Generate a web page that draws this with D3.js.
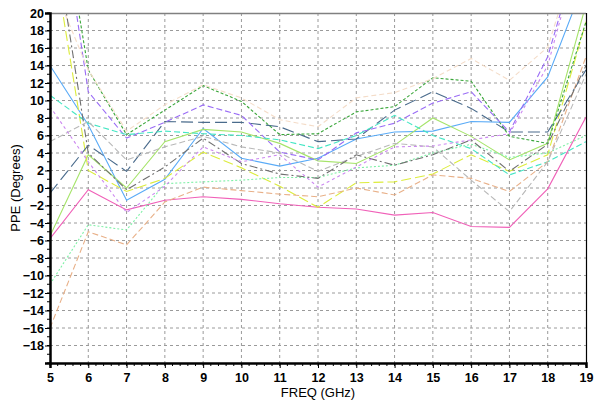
<!DOCTYPE html>
<html>
<head>
<meta charset="utf-8">
<script src="https://cdn.jsdelivr.net/npm/d3@7"></script>
<style>
  html, body { margin: 0; padding: 0; background: #ffffff; }
  svg { display: block; }
</style>
</head>
<body>
<script>
const freqs = [5, 6, 7, 8, 9, 10, 11, 12, 13, 14, 15, 16, 17, 18, 19];
const xTicks = [5, 6, 7, 8, 9, 10, 11, 12, 13, 14, 15, 16, 17, 18, 19];
const yTicks = [20, 18, 16, 14, 12, 10, 8, 6, 4, 2, 0, -2, -4, -6, -8, -10, -12, -14, -16, -18];

const seriesNames = ["pink", "blue", "lime", "yellow", "slate", "green", "purple", "aqua", "mint", "tan", "peach", "lightgray", "darkgray", "violet"];
const pinkVals     = [-5.8, -0.2, -2.5, -1.4, -1.0, -1.3, -1.8, -2.2, -2.4, -3.1, -2.8, -4.4, -4.5, -0.1, 8.1];
const blueVals     = [14.0, 7.2, -1.4, 1.0, 6.8, 3.4, 2.5, 3.4, 5.6, 6.4, 6.5, 7.6, 7.5, 12.7, 24.0];
const limeVals     = [-5.5, 3.8, 0.0, 5.3, 6.7, 6.4, 5.1, 3.1, 2.8, 4.9, 8.0, 5.9, 3.2, 5.1, 21.0];
const yellowVals   = [29.0, 2.0, -0.4, 1.1, 4.1, 2.3, 0.2, -2.2, 0.6, 0.7, 1.6, 3.8, 1.9, 3.8, 19.0];
const slateVals    = [-0.6, 4.9, 1.9, 7.6, 7.5, 7.5, 7.0, 5.3, 5.6, 8.9, 11.0, 9.1, 6.4, 6.4, 13.5];
const greenVals    = [40.0, 13.5, 6.1, 8.9, 11.7, 9.9, 6.1, 6.2, 8.7, 9.3, 12.6, 12.2, 5.9, 5.1, 19.0];
const purpleVals   = [40.0, 11.0, 5.7, 7.5, 9.5, 8.3, 4.1, 3.2, 6.3, 7.4, 9.7, 11.0, 6.4, 15.0, 30.0];
const aquaVals     = [10.6, 7.4, 6.1, 6.5, 6.2, 6.0, 5.5, 4.5, 6.0, 8.3, 6.0, 4.5, 1.5, 3.0, 5.3];
const mintVals     = [-11.0, -4.2, -4.8, 0.5, 0.7, 0.9, 1.2, 1.2, 2.3, 2.6, 4.0, 5.0, 3.5, 4.0, 6.0];
const tanVals      = [-16.0, -5.0, -6.5, -1.6, 0.1, -0.3, -0.7, -1.0, 0.0, -0.8, 1.5, 1.1, -0.4, 3.0, 15.0];
const peachVals    = [24.0, 13.5, 6.5, 9.5, 11.8, 10.3, 7.8, 7.0, 10.3, 10.9, 12.5, 14.8, 12.3, 16.1, 30.0];
const lightgrayVals= [5.3, 7.6, 3.2, 4.7, 5.9, 4.7, 4.0, 1.9, 3.6, 5.1, 4.7, 0.9, -2.7, 3.0, 13.0];
const darkgrayVals = [32.0, 4.0, -0.2, 2.4, 5.7, 2.8, 1.6, 1.1, 3.8, 2.6, 3.8, 5.5, 1.9, 5.0, 14.0];
const violetVals   = [9.3, 3.0, -2.8, 0.2, 4.7, 3.0, 3.8, 0.1, 2.4, 4.7, 4.8, 5.5, 6.2, 14.0, 30.0];

const seriesValues = [pinkVals, blueVals, limeVals, yellowVals, slateVals, greenVals, purpleVals, aquaVals, mintVals, tanVals, peachVals, lightgrayVals, darkgrayVals, violetVals];
const seriesColors = ["#f060b8", "#5aabf7", "#a6e46a", "#dcec3c", "#4a6b8c", "#3aa63a", "#9a6cf6", "#44e6c4", "#7ef0a6", "#e8b088", "#f4dcc8", "#b8b8b8", "#707070", "#cc88f0"];
const seriesDash   = [null, null, null, "10,4", "12,5", "3,2", "6,3", "6,3", "2,2", "6,3", "5,3", "6,3", "8,3,2,3", "3,3"];

const W = 594, H = 403;
const pLeft = 50, pRight = 586, pTop = 13, pBottom = 363;
const FONT = "Arial, 'Liberation Sans', sans-serif";

const svg = d3.select("body").append("svg").attr("width", W).attr("height", H);

const x = d3.scaleLinear().domain([5, 19]).range([pLeft, pRight]);
const y = d3.scaleLinear().domain([-20, 20]).range([pBottom, pTop]);

// grid
const grid = svg.append("g");
xTicks.filter(d => d > 5 && d < 19).forEach(d => {
  grid.append("line").attr("x1", x(d)).attr("x2", x(d)).attr("y1", pTop).attr("y2", pBottom)
    .attr("stroke", "#9a9a9a").attr("stroke-width", 1).attr("stroke-dasharray", "3,3");
});
yTicks.filter(d => d < 20).forEach(d => {
  grid.append("line").attr("x1", pLeft).attr("x2", pRight).attr("y1", y(d)).attr("y2", y(d))
    .attr("stroke", "#9a9a9a").attr("stroke-width", 1).attr("stroke-dasharray", "3,3");
});

// clip
svg.append("clipPath").attr("id", "plotclip").append("rect")
  .attr("x", pLeft).attr("y", pTop).attr("width", pRight - pLeft).attr("height", pBottom - pTop);

const line = d3.line().x((d, i) => x(freqs[i])).y(d => y(d));
const lines = svg.append("g").attr("clip-path", "url(#plotclip)");
seriesValues.forEach((vals, i) => {
  lines.append("path").datum(vals)
    .attr("d", line)
    .attr("fill", "none")
    .attr("stroke", seriesColors[i])
    .attr("stroke-width", 1.1)
    .attr("stroke-dasharray", seriesDash[i]);
});

// frame: top gray, right black
svg.append("line").attr("x1", pLeft).attr("x2", pRight).attr("y1", pTop + 0.5).attr("y2", pTop + 0.5)
  .attr("stroke", "#808080").attr("stroke-width", 1.5);
svg.append("line").attr("x1", pRight + 0.5).attr("x2", pRight + 0.5).attr("y1", pTop).attr("y2", pBottom)
  .attr("stroke", "#000").attr("stroke-width", 1.2);

// minor ticks
const xMinor = d3.range(5, 19.001, 0.2);
svg.append("g").selectAll("line").data(xMinor).join("line")
  .attr("x1", d => x(d)).attr("x2", d => x(d)).attr("y1", pBottom).attr("y2", pBottom + 3)
  .attr("stroke", "#000").attr("stroke-width", 1);
const yMinor = d3.range(-20, 20.001, 1);
svg.append("g").selectAll("line").data(yMinor).join("line")
  .attr("x1", pLeft - 3).attr("x2", pLeft).attr("y1", d => y(d)).attr("y2", d => y(d))
  .attr("stroke", "#000").attr("stroke-width", 1);

// axes
const xAxis = d3.axisBottom(x).tickValues(xTicks).tickSize(5).tickFormat(d3.format("d"));
const gx = svg.append("g").attr("transform", `translate(0,${pBottom})`).call(xAxis);
gx.select(".domain").attr("stroke", "#000").attr("stroke-width", 2.5);
gx.selectAll(".tick line").attr("stroke", "#000");
gx.selectAll("text").attr("font-family", FONT)
  .attr("font-size", 12.5).attr("font-weight", "bold").attr("fill", "#000").attr("dy", "0.9em");

const yAxis = d3.axisLeft(y).tickValues(yTicks).tickSize(5).tickFormat(d3.format("d"));
const gy = svg.append("g").attr("transform", `translate(${pLeft},0)`).call(yAxis);
gy.select(".domain").attr("stroke", "#000").attr("stroke-width", 2.5);
gy.selectAll(".tick line").attr("stroke", "#000");
gy.selectAll("text").attr("font-family", FONT)
  .attr("font-size", 12.5).attr("font-weight", "bold").attr("fill", "#000").attr("x", -6);

// titles
svg.append("text").attr("x", (pLeft + pRight) / 2).attr("y", 397).attr("text-anchor", "middle")
  .attr("font-family", FONT).attr("font-size", 13).attr("fill", "#000")
  .text("FREQ (GHz)");
svg.append("text").attr("transform", `translate(20,${(pTop + pBottom) / 2}) rotate(-90)`).attr("text-anchor", "middle")
  .attr("font-family", FONT).attr("font-size", 13).attr("fill", "#000")
  .text("PPE (Degrees)");
</script>
</body>
</html>
